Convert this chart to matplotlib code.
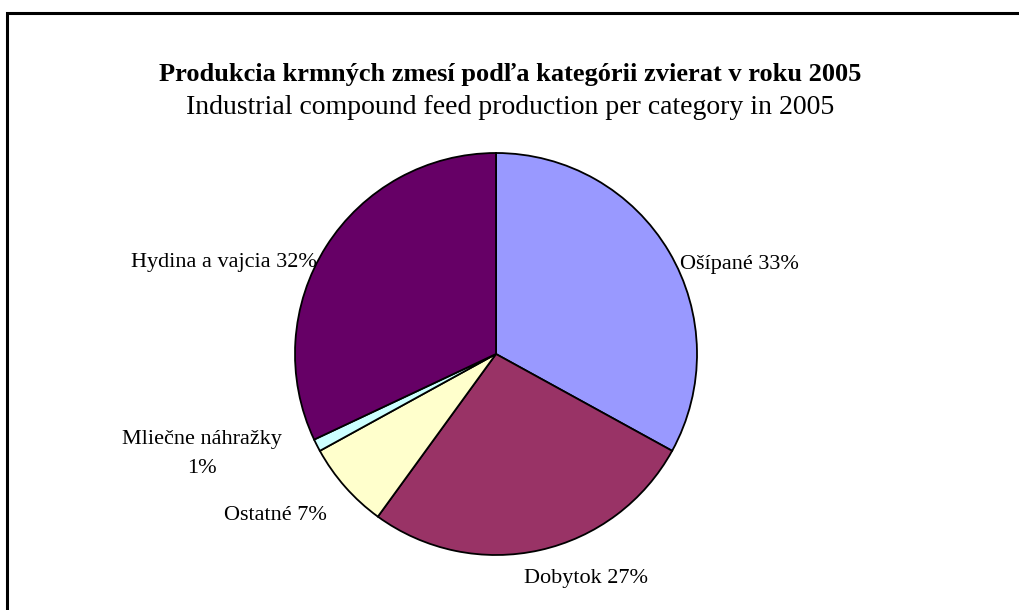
import matplotlib.pyplot as plt
from matplotlib.patches import Rectangle

plt.rcParams["font.family"] = ["Liberation Serif", "DejaVu Serif"]

categories = ["Ošípané", "Dobytok", "Ostatné", "Mliečne náhražky", "Hydina a vajcia"]
shares = [33, 27, 7, 1, 32]
colors = ["#9999FF", "#993366", "#FFFFCC", "#CCFFFF", "#660066"]
labels = ["Ošípané 33%", "Dobytok 27%", "Ostatné 7%", "Mliečne náhražky\n1%", "Hydina a vajcia 32%"]

# label anchor positions in pixel coords (x, y from top), alignment
label_pos = [(680, 265, "left"), (586, 578, "center"), (327, 516, "right"),
             (202, 454, "center"), (317, 262, "right")]

W, H = 1019, 610
fig = plt.figure(figsize=(W / 100, H / 100), dpi=100)
ax = fig.add_axes([0, 0, 1, 1])
ax.set_xlim(0, W)
ax.set_ylim(0, H)
ax.set_aspect("equal")
ax.axis("off")

# chart border (runs off the right and bottom edges)
ax.add_patch(Rectangle((7.5, -20), W + 20, H - 12.5 + 20, fill=False,
                       edgecolor="black", linewidth=2.2))

ax.pie(shares, colors=colors, startangle=90, counterclock=False,
       center=(496, H - 354), radius=201,
       wedgeprops={"edgecolor": "black", "linewidth": 1.3})
ax.set_xlim(0, W)
ax.set_ylim(0, H)

for lab, (x, y, ha) in zip(labels, label_pos):
    ax.text(x, H - y, lab, ha=ha, va="center", fontsize=16, linespacing=1.75)

ax.text(510, H - 75, "Produkcia krmných zmesí podľa kategórii zvierat v roku 2005",
        ha="center", va="center", fontsize=19, fontweight="bold")
ax.text(510, H - 107, "Industrial compound feed production per category in 2005",
        ha="center", va="center", fontsize=20)

fig.savefig("out.png", dpi=100)
